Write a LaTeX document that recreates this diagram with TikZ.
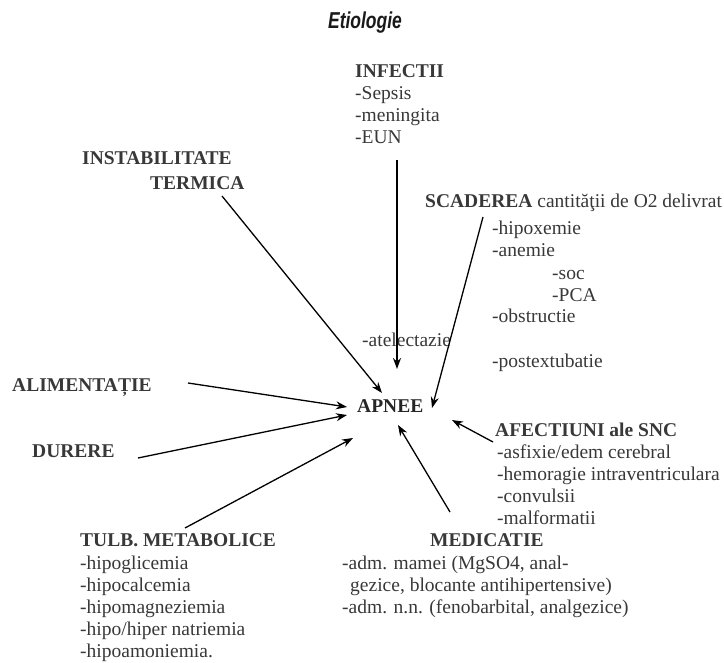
\documentclass[tikz,border=0pt]{standalone}
\usepackage{fontspec}
\setmainfont{Liberation Serif}
\newfontfamily\titlefont[FakeStretch=0.76]{Liberation Sans}
\usetikzlibrary{arrows.meta}

\begin{document}
\begin{tikzpicture}[x=1pt,y=-1pt,>={Stealth[length=11pt,width=8pt]},
        txt/.style={anchor=base west,inner sep=0pt,text=black!78,
                    font=\fontsize{19.5}{22}\selectfont},
        head/.style={txt,font=\fontsize{19.5}{22}\selectfont\bfseries},
        cause/.style={->,line width=1.3pt}]
        \useasboundingbox (0,0) rectangle (724,663);

        % title
        \node[anchor=base,inner sep=0pt,text=black!90,
              font=\titlefont\fontsize{23}{26}\selectfont\bfseries\itshape]
              (title) at (365,29) {Etiologie};

        % the centre
        \node[head,text=black!85] (apnee) at (357,413) {APNEE};

        % infections
        \node[head] (infectii) at (355,78) {INFECTII};
        \foreach \t [count=\i] in {-Sepsis,-meningita,-EUN}
                \node[txt] (inf\i) at (355,78+21.7*\i) {\t};

        % thermal instability
        \node[head] (instab) at (82,165) {INSTABILITATE};
        \node[head] (termica) at (150,190) {TERMICA};

        % less oxygen delivered
        \node[head] (scaderea) at (425,208) {SCADEREA \mdseries cantităţii de O2 delivrat};
        \foreach \t/\x/\y in {-hipoxemie/492/235, -anemie/492/257,
                              -soc/552/280, -PCA/552/302,
                              -obstructie/492/323, -postextubatie/492/368}
                \node[txt] (scad-\y) at (\x,\y) {\t};
        \node[txt] (atelectazie) at (362,347) {-atelectazie};

        % feeding and pain
        \node[head] (alim) at (12,392) {ALIMENTAȚIE};
        \node[head] (durere) at (32,457) {DURERE};

        % central nervous system
        \node[head] (afectiuni) at (495,437) {AFECTIUNI ale SNC};
        \foreach \t [count=\i] in {-asfixie/edem cerebral,
                                   -hemoragie intraventriculara,
                                   -convulsii,-malformatii}
                \node[txt] (snc\i) at (497,437+22*\i) {\t};

        % metabolic troubles
        \node[head] (tulb) at (80,547) {TULB. METABOLICE};
        \foreach \t [count=\i] in {-hipoglicemia,-hipocalcemia,-hipomagneziemia,
                                   -hipo/hiper natriemia,-hipoamoniemia.}
                \node[txt] (met\i) at (80,547+22*\i) {\t};

        % drugs
        \node[head] (medicatie) at (430,547) {MEDICATIE};
        \node[txt] (med1) at (342,569) {-adm. mamei (MgSO4, anal-};
        \node[txt] (med2) at (350,591) {gezice, blocante antihipertensive)};
        \node[txt] (med3) at (342,613) {-adm. n.n. (fenobarbital, analgezice)};

        % arrow ends
        \coordinate (from-instab) at (222,196);
        \coordinate (to-instab)   at (382,393);
        \coordinate (from-inf)    at (397,160);
        \coordinate (to-inf)      at (397,369);
        \coordinate (from-scad)   at (483,217);
        \coordinate (to-scad)     at (432,408);
        \coordinate (from-alim)   at (188,383);
        \coordinate (to-alim)     at (347,407);
        \coordinate (from-durere) at (138,458);
        \coordinate (to-durere)   at (347,415);
        \coordinate (from-tulb)   at (185,528);
        \coordinate (to-tulb)     at (353,438);
        \coordinate (from-med)    at (450,512);
        \coordinate (to-med)      at (398,425);
        \coordinate (from-snc)    at (493,442);
        \coordinate (to-snc)      at (452,420);

        % the arrows into APNEE
        \foreach \a in {instab,inf,scad,alim,durere,tulb,med,snc}
                \draw[cause] (from-\a) -- (to-\a);
\end{tikzpicture}
\end{document}
